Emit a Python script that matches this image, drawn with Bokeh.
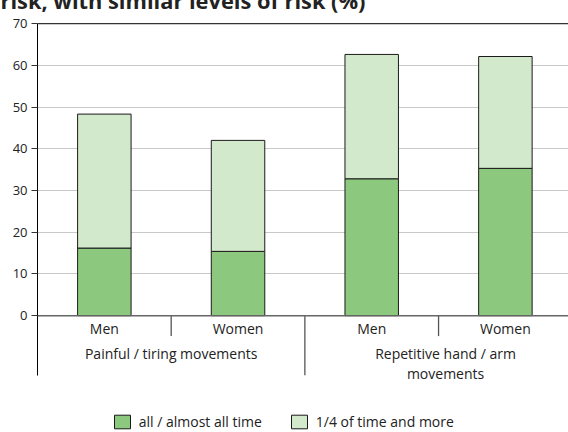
from bokeh.plotting import figure
from bokeh.models import (Range1d, LinearAxis, FixedTicker, Span,
                          ColumnDataSource, Grid)
from bokeh.core.properties import value
from bokeh.embed import file_html
from bokeh.resources import INLINE

# ---- data ----
categories = ["Men", "Women", "Men", "Women"]
group_of = [0, 0, 1, 1]
groups = ["Painful / tiring movements", "Repetitive hand / arm\nmovements"]
all_time = [16.2, 15.4, 32.8, 35.3]          # all / almost all time
quarter_total = [48.3, 42.0, 62.6, 62.1]     # 1/4 of time and more (total height)
series_names = ["all / almost all time", "1/4 of time and more"]
y_ticks = [0, 10, 20, 30, 40, 50, 60, 70]
title_text = "risk, with similar levels of risk (%)"

FONT = "Open Sans"
DARK = "#8cc97e"
LIGHT = "#d3e9cc"
TXT = "#222222"

x_pos = [i + 0.5 for i in range(len(categories))]
quarter_extra = [t - a for t, a in zip(quarter_total, all_time)]
src = ColumnDataSource(dict(x=x_pos, a=all_time, b=quarter_extra))

p = figure(width=568, height=457,
           x_range=Range1d(0, 3.972), y_range=Range1d(-28.0, 70.25),
           output_backend="svg", toolbar_location=None,
           x_axis_type=None, y_axis_type=None,
           min_border_left=37, min_border_right=0,
           min_border_top=0, min_border_bottom=0)
p.outline_line_color = None
p.background_fill_color = "white"
p.border_fill_color = "white"
p.styles = {"margin-top": "-25px", "margin-left": "0px"}

# (cropped) title
p.title.text = title_text
p.title.align = "left"
p.title.offset = -37
p.title.standoff = 16
p.title.text_font = FONT
p.title.text_font_style = "bold"
p.title.text_font_size = "21.8px"
p.title.text_color = TXT

# y axis
yax = LinearAxis(ticker=FixedTicker(ticks=y_ticks), bounds=(-14.3, 70))
yax.axis_line_color = "#000000"
yax.axis_line_width = 1
yax.major_tick_line_color = "#333333"
yax.major_tick_in = 0
yax.major_tick_out = 6
yax.minor_tick_line_color = None
yax.major_label_text_font = FONT
yax.major_label_text_font_size = "13px"
yax.major_label_text_color = TXT
yax.major_label_standoff = 4
p.add_layout(yax, "left")

# grid lines
grid = Grid(dimension=1, ticker=FixedTicker(ticks=y_ticks[1:-1]))
grid.grid_line_color = "#c8c8c8"
grid.grid_line_width = 1
p.add_layout(grid)

# top line at 70
p.add_layout(Span(location=y_ticks[-1], dimension="width", line_color="#333333", line_width=1.3))

# bars
p.vbar_stack(["a", "b"], x="x", width=0.4, source=src,
             fill_color=[DARK, LIGHT], line_color="#1a1a1a", line_width=1,
             legend_label=series_names)

# baseline at 0
p.add_layout(Span(location=y_ticks[0], dimension="width", line_color="#666666", line_width=1.5))

# separators between categories
sep_x = [float(i) for i in range(1, len(categories))]
sep_bottom = [-14.3 if group_of[i] != group_of[i - 1] else -4.9 for i in range(1, len(categories))]
p.segment(x0=sep_x, y0=[0] * len(sep_x), x1=sep_x, y1=sep_bottom,
          line_color="#555555", line_width=1.3)

# category labels
p.text(x=x_pos, y=[-0.8] * len(x_pos), text=categories,
       text_font=value(FONT), text_font_size="14px", text_color=TXT,
       text_align="center", text_baseline="top")

# group labels
group_x = []
for g in range(len(groups)):
    xs = [x for x, gg in zip(x_pos, group_of) if gg == g]
    group_x.append(sum(xs) / len(xs))
p.text(x=group_x, y=[-6.8] * len(group_x), text=groups, x_offset=[0, 7],
       text_font=value(FONT), text_font_size="14px", text_color=TXT,
       text_align="center", text_baseline="top", text_line_height=1.07)

# legend
leg = p.legend[0]
leg.location = (74.7, -1)
leg.orientation = "horizontal"
leg.glyph_width = 20
leg.glyph_height = 17
leg.label_height = 23
leg.label_standoff = 7
leg.spacing = 27
leg.padding = 0
leg.margin = 0
leg.border_line_color = None
leg.background_fill_alpha = 0
leg.label_text_font = FONT
leg.label_text_font_size = "14px"
leg.label_text_color = TXT

open("out.html", "w").write(file_html(p, INLINE))
